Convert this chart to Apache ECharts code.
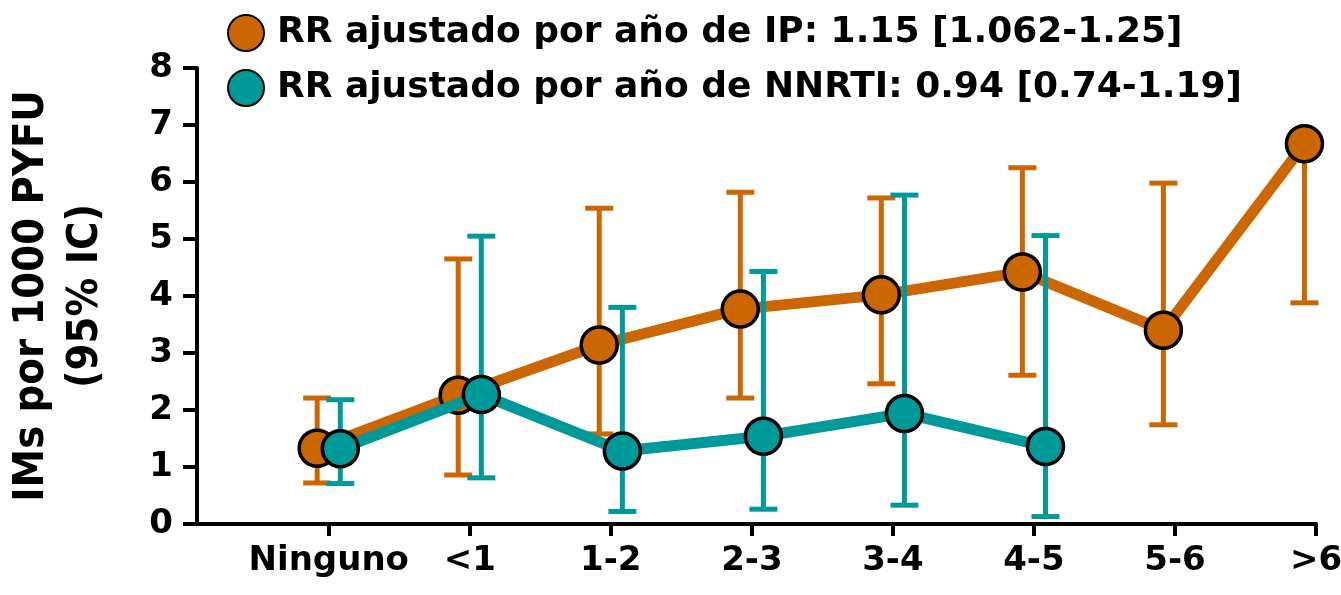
<!DOCTYPE html>
<html>
<head>
<meta charset="utf-8">
<script src="https://cdn.jsdelivr.net/npm/echarts@6/dist/echarts.min.js"></script>
<style>html,body{margin:0;padding:0;background:#fff;}#c{width:1341px;height:595px;}</style>
</head>
<body>
<div id="c"></div>
<script>
const categories = ['Ninguno', '<1', '1-2', '2-3', '3-4', '4-5', '5-6', '>6'];
const ipName = 'RR ajustado por año de IP: 1.15 [1.062-1.25]';
const nnrtiName = 'RR ajustado por año de NNRTI: 0.94 [0.74-1.19]';
const ipValues = [1.33, 2.26, 3.14, 3.77, 4.02, 4.42, 3.40, 6.67];
const ipLow    = [0.72, 0.86, 1.58, 2.21, 2.46, 2.61, 1.74, 3.88];
const ipHigh   = [2.21, 4.65, 5.54, 5.82, 5.72, 6.25, 5.98, 6.67];
const nnValues = [1.32, 2.27, 1.28, 1.54, 1.94, 1.36];
const nnLow    = [0.71, 0.81, 0.22, 0.26, 0.33, 0.13];
const nnHigh   = [2.18, 5.05, 3.80, 4.43, 5.77, 5.06];
const yTicks = [0, 1, 2, 3, 4, 5, 6, 7, 8];

const ORANGE = '#CC6600';
const TEAL = '#009999';
const FONT = 'DejaVu Sans';
const OFF = 0.082;

function pts(vals, off) { return vals.map((v, i) => [i + off, v]); }
function errs(vals, lo, hi, off) { return vals.map((v, i) => [i + off, lo[i], hi[i]]); }

function errRender(color) {
  return function (params, api) {
    const x = api.value(0), lo = api.value(1), hi = api.value(2);
    const p1 = api.coord([x, lo]), p2 = api.coord([x, hi]);
    const hw = 14;
    const st = { stroke: color, lineWidth: 5 };
    return {
      type: 'group',
      children: [
        { type: 'line', shape: { x1: p1[0], y1: p1[1], x2: p2[0], y2: p2[1] }, style: st },
        { type: 'line', shape: { x1: p1[0] - hw, y1: p1[1], x2: p1[0] + hw, y2: p1[1] }, style: st },
        { type: 'line', shape: { x1: p2[0] - hw, y1: p2[1], x2: p2[0] + hw, y2: p2[1] }, style: st }
      ]
    };
  };
}

const chart = echarts.init(document.getElementById('c'));
chart.setOption({
  backgroundColor: '#fff',
  animation: false,
  grid: { left: 197, right: 25, top: 68, bottom: 71, containLabel: false, outerBoundsMode: 'none' },
  legend: {
    orient: 'vertical', left: 222, top: 9,
    itemWidth: 36, itemHeight: 36, itemGap: 17,
    icon: 'circle',
    data: [ipName, nnrtiName],
    textStyle: { fontFamily: FONT, fontWeight: 'bold', fontSize: 36, color: '#000', padding: [0, 0, 0, 8] }
  },
  xAxis: {
    type: 'value', min: -0.934, max: 7,
    splitLine: { show: false },
    axisLine: { onZero: false, lineStyle: { color: '#000', width: 4 } },
    axisTick: { show: true, customValues: [0, 1, 2, 3, 4, 5, 6, 7], length: 12, lineStyle: { color: '#000', width: 4 } },
    axisLabel: {
      customValues: [0, 1, 2, 3, 4, 5, 6, 7],
      formatter: v => categories[Math.round(v)],
      margin: 20, color: '#000', fontFamily: FONT, fontWeight: 'bold', fontSize: 34
    }
  },
  yAxis: {
    type: 'value', min: 0, max: 8, interval: 1,
    splitLine: { show: false },
    name: 'IMs por 1000 PYFU\n(95% IC)',
    nameLocation: 'middle', nameRotate: 90, nameGap: 84,
    nameTextStyle: { fontFamily: 'DejaVu Sans Condensed, DejaVu Sans', fontWeight: 'bold', fontSize: 43, color: '#000', lineHeight: 54, align: 'center' },
    axisLine: { show: true, onZero: false, lineStyle: { color: '#000', width: 4 } },
    axisTick: { show: true, length: 14, lineStyle: { color: '#000', width: 4 } },
    axisLabel: { margin: 24, color: '#000', fontFamily: FONT, fontWeight: 'bold', fontSize: 34, formatter: v => yTicks.includes(v) ? String(v) : '' }
  },
  series: [
    { type: 'custom', name: 'ipErr', renderItem: errRender(ORANGE), data: errs(ipValues, ipLow, ipHigh, -OFF), z: 2, silent: true },
    { type: 'line', name: ipName, data: pts(ipValues, -OFF), z: 3,
      lineStyle: { color: ORANGE, width: 11 },
      symbol: 'circle', symbolSize: 36,
      itemStyle: { color: ORANGE, borderColor: '#000', borderWidth: 3.5 } },
    { type: 'custom', name: 'nnErr', renderItem: errRender(TEAL), data: errs(nnValues, nnLow, nnHigh, OFF), z: 4, silent: true },
    { type: 'line', name: nnrtiName, data: pts(nnValues, OFF), z: 5,
      lineStyle: { color: TEAL, width: 11 },
      symbol: 'circle', symbolSize: 36,
      itemStyle: { color: TEAL, borderColor: '#000', borderWidth: 3.5 } }
  ]
});
</script>
</body>
</html>
